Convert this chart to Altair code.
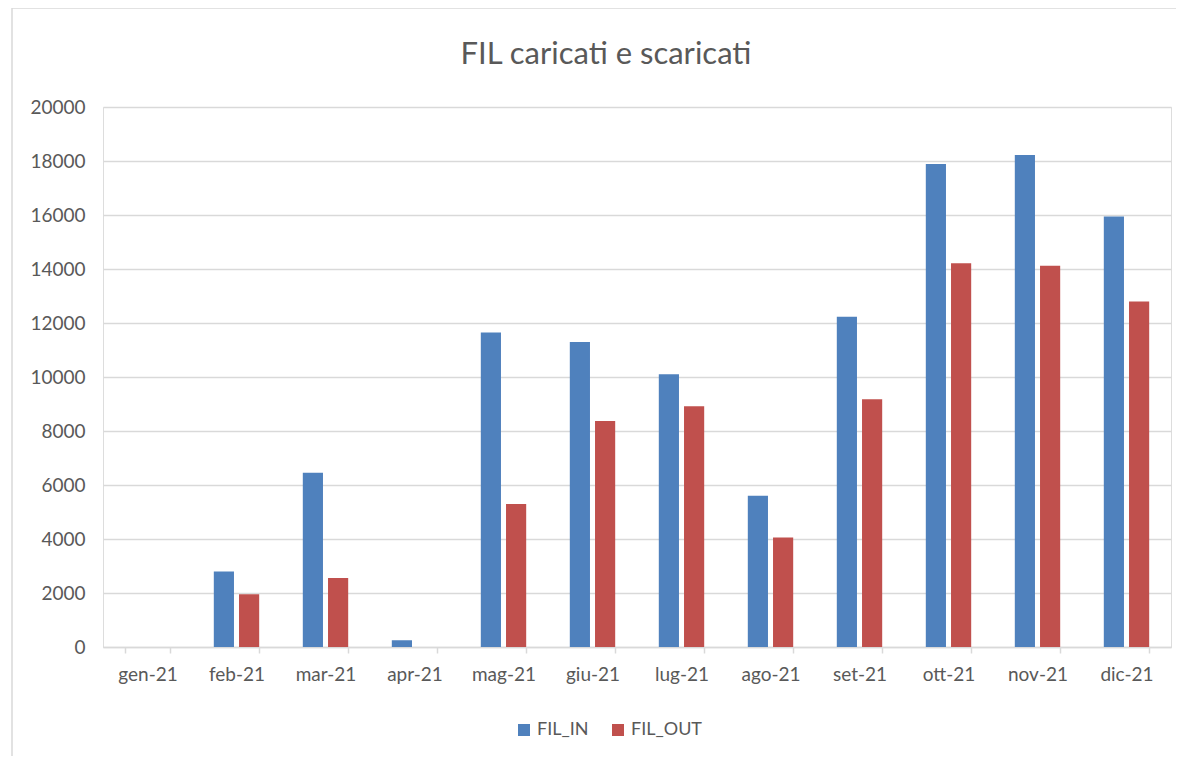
import altair as alt
import pandas as pd

months = ["gen-21", "feb-21", "mar-21", "apr-21", "mag-21", "giu-21",
          "lug-21", "ago-21", "set-21", "ott-21", "nov-21", "dic-21"]
fil_in = [0, 2800, 6450, 250, 11650, 11300, 10100, 5600, 12230, 17890, 18220, 15940]
fil_out = [0, 1950, 2560, 0, 5300, 8370, 8920, 4060, 9180, 14210, 14120, 12800]
series = ["FIL_IN", "FIL_OUT"]
colors = ["#4F81BD", "#C0504D"]
y_ticks = [0, 2000, 4000, 6000, 8000, 10000, 12000, 14000, 16000, 18000, 20000]
title_text = "FIL caricati e scaricati"

rows = []
for m, a, b in zip(months, fil_in, fil_out):
    rows.append({"mese": m, "serie": "FIL_IN", "valore": a})
    rows.append({"mese": m, "serie": "FIL_OUT", "valore": b})
df = pd.DataFrame(rows)

W, H = 1068, 540
FONT = "Lato"
GREY = "#595959"
LINE = "#d9d9d9"

bars = alt.Chart(df).mark_bar().encode(
    x=alt.X("mese:N", sort=months, title=None,
            scale=alt.Scale(paddingInner=0.49, paddingOuter=0.245),
            axis=alt.Axis(labelAngle=0, tickBand="extent", domainColor=LINE,
                          tickColor=LINE, tickSize=6, labelPadding=12,
                          labelFontSize=19, labelColor=GREY, labelFont=FONT,
                          grid=False, domainWidth=1.5, tickWidth=1.5)),
    xOffset=alt.XOffset("serie:N", sort=series,
                        scale=alt.Scale(paddingInner=0.2, paddingOuter=0)),
    y=alt.Y("valore:Q", title=None,
            scale=alt.Scale(domain=[0, 20000], nice=False),
            axis=alt.Axis(values=y_ticks, format="d", domain=False, ticks=False,
                          gridColor=LINE, gridWidth=1.5, labelFontSize=19,
                          labelColor=GREY, labelFont=FONT, labelPadding=18)),
    color=alt.Color("serie:N", sort=series,
                    scale=alt.Scale(domain=series, range=colors),
                    legend=alt.Legend(title=None, orient="none", direction="horizontal",
                                      legendX=412, legendY=614, symbolType="square",
                                      symbolSize=144, labelFontSize=18, labelColor=GREY,
                                      labelFont=FONT, columnPadding=20, labelOffset=4,
                                      symbolStrokeWidth=0)),
)

one = pd.DataFrame({"k": [0]})

left_edge = alt.Chart(one).mark_rule(color=LINE, strokeWidth=1.5).encode(
    x=alt.value(-91), y=alt.value(-99), y2=alt.value(H + 200),
)
top_edge = alt.Chart(one).mark_rule(color=LINE, strokeWidth=1.5).encode(
    x=alt.value(-91), x2=alt.value(W + 120), y=alt.value(-99),
)

title = alt.Chart(one).mark_text(
    font=FONT, fontSize=31, color=GREY, align="center", baseline="middle"
).encode(
    x=alt.value(503), y=alt.value(-52), text=alt.value(title_text),
)

chart = alt.layer(left_edge, top_edge, bars, title).properties(
    width=W, height=H,
    autosize=alt.AutoSizeParams(type="none"),
    padding={"left": 95, "top": 99, "right": 5, "bottom": 109},
).configure_view(strokeWidth=0).configure(font=FONT)

chart.save("out.html", embed_options={"renderer": "svg", "actions": False})
